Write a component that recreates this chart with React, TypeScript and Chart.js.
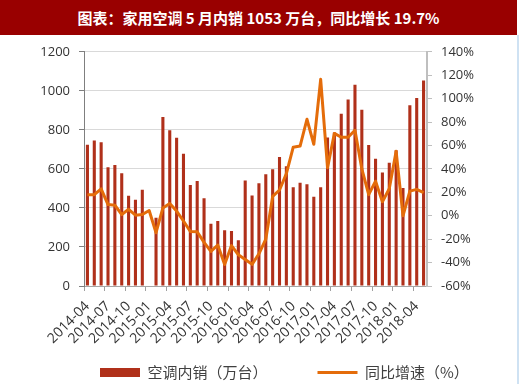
import React, { useEffect, useRef } from "react";
import { Chart, registerables } from "chart.js";

Chart.register(...registerables);

const titleText = "图表：家用空调 5 月内销 1053 万台，同比增长 19.7%";
const barLabel = "空调内销（万台）";
const lineLabel = "同比增速（%）";

const months = [
  "2014-04", "2014-05", "2014-06", "2014-07", "2014-08", "2014-09", "2014-10", "2014-11", "2014-12",
  "2015-01", "2015-02", "2015-03", "2015-04", "2015-05", "2015-06", "2015-07", "2015-08", "2015-09",
  "2015-10", "2015-11", "2015-12", "2016-01", "2016-02", "2016-03", "2016-04", "2016-05", "2016-06",
  "2016-07", "2016-08", "2016-09", "2016-10", "2016-11", "2016-12", "2017-01", "2017-02", "2017-03",
  "2017-04", "2017-05", "2017-06", "2017-07", "2017-08", "2017-09", "2017-10", "2017-11", "2017-12",
  "2018-01", "2018-02", "2018-03", "2018-04", "2018-05",
];

const salesValues: (number | null)[] = [
  724, 746, 736, 608, 620, 578, 462, 442, 493,
  null, 350, 866, 798, 760, 677, 518, 538, 450,
  319, 333, 286, 282, 235, 541, 464, 526, 573,
  598, 661, 613, 506, 529, 521, 457, 506, 761,
  787, 882, 956, 1031, 903, 723, 652, 582, 632,
  696, 502, 926, 963, 1053,
];

const growthValues = [
  18, 18, 23, 9.5, 9, 1, 5.5, 0.5, 1,
  4.5, -14.5, 6.7, 10.4, 4, -4.5, -13.5, -13.7, -22.7,
  -30.5, -25, -41.7, -25.5, -33.3, -37.3, -41.5, -32.5, -20,
  16.5, 22, 36, 58.5, 59.5, 82.4, 61, 116.5, 41,
  70.3, 67, 67, 73, 40, 18, 29.5, 12, 23,
  55, 0, 21, 22.5, 19.7,
];

const leftMin = 0;
const leftMax = 1200;
const leftStep = 200;
const rightMin = -60;
const rightMax = 140;
const rightStep = 20;

const CANVAS_W = 540;
const CANVAS_H = 355;

// widen scale clip boxes after layout so labels are not cut off
const labelRoomPlugin = {
  id: "labelRoom",
  afterLayout(chart: any) {
    const y = chart.scales.y;
    if (y) y.left = 0;
    const x = chart.scales.x;
    if (x) x.bottom = x.top + 90;
  },
};

export default function App() {
  const ref = useRef<HTMLCanvasElement>(null);

  useEffect(() => {
    const axisFont = { family: "'Open Sans', 'DejaVu Sans', sans-serif", size: 13 };
    const xFont = { family: "'Open Sans', 'DejaVu Sans', sans-serif", size: 14 };
    const chart = new Chart(ref.current as HTMLCanvasElement, {
      type: "bar",
      data: {
        labels: months,
        datasets: [
          {
            type: "bar",
            label: barLabel,
            data: salesValues,
            backgroundColor: "#B0301A",
            yAxisID: "y",
            barPercentage: 0.45,
            categoryPercentage: 1,
            order: 2,
            pointStyle: "rect",
          } as any,
          {
            type: "line",
            label: lineLabel,
            data: growthValues,
            borderColor: "#E46C0A",
            backgroundColor: "#E46C0A",
            borderWidth: 3,
            pointRadius: 0,
            pointStyle: "line",
            tension: 0,
            yAxisID: "y1",
            order: 1,
            borderJoinStyle: "round",
          } as any,
        ],
      },
      plugins: [labelRoomPlugin],
      options: {
        responsive: false,
        animation: false,
        layout: { padding: { left: 50, top: 13, right: 0, bottom: 0 } },
        plugins: {
          legend: {
            position: "bottom",
            align: "start",
            labels: {
              usePointStyle: true,
              pointStyleWidth: 40,
              boxHeight: 9,
              padding: 50,
              color: "#404040",
              font: { family: "'Noto Sans CJK SC', sans-serif", size: 15 },
              sort: (a: any, b: any) => a.datasetIndex - b.datasetIndex,
            },
          },
          tooltip: { enabled: false },
        },
        scales: {
          x: {
            offset: true,
            grid: {
              offset: true,
              drawOnChartArea: false,
              drawTicks: true,
              tickLength: 5,
              color: (c: any) => (c.index % 3 === 0 ? "#A0A0A0" : "rgba(0,0,0,0)"),
            },
            border: { color: "#A6A6A6", width: 1 },
            ticks: {
              autoSkip: false,
              minRotation: 45,
              maxRotation: 45,
              padding: 7,
              color: "#333333",
              font: xFont,
              callback: (_v: any, i: number) => (i % 3 === 0 ? months[i] : ""),
            },
            afterFit: (s: any) => {
              s.height = 29;
            },
          },
          y: {
            position: "left",
            min: leftMin,
            max: leftMax,
            ticks: {
              stepSize: leftStep,
              padding: 9,
              color: "#333333",
              font: axisFont,
              callback: (v: any) => String(v),
            },
            grid: { color: "#D9D9D9", tickColor: "#7F7F7F", tickLength: 5 },
            border: { color: "#7F7F7F", width: 1 },
            afterFit: (s: any) => {
              s.width = 34;
            },
          },
          y1: {
            position: "right",
            min: rightMin,
            max: rightMax,
            ticks: {
              stepSize: rightStep,
              padding: 9,
              color: "#333333",
              font: axisFont,
              callback: (v: any) => `${v}%`,
            },
            grid: { drawOnChartArea: false, tickColor: "#BFBFBF", tickLength: 5 },
            border: { color: "#BFBFBF", width: 2 },
            afterFit: (s: any) => {
              s.width = CANVAS_W - 427;
            },
          },
        },
      } as any,
    });
    return () => chart.destroy();
  }, []);

  return (
    <div
      style={{
        position: "absolute",
        left: 0,
        top: 0,
        width: 520,
        height: 384,
        overflow: "hidden",
        background: "#ffffff",
      }}
    >
      <div
        style={{
          position: "absolute",
          left: 0,
          top: 0,
          width: 517,
          height: 35,
          background: "#990000",
          color: "#ffffff",
          fontFamily: "'Noto Sans CJK SC', sans-serif",
          fontWeight: "bold",
          fontSize: 15,
          lineHeight: "35px",
          textAlign: "center",
          whiteSpace: "nowrap",
        }}
      >
        {titleText}
      </div>
      <canvas
        ref={ref}
        width={CANVAS_W}
        height={CANVAS_H}
        style={{ position: "absolute", left: 0, top: 35, width: CANVAS_W, height: CANVAS_H }}
      />
      <div
        style={{
          position: "absolute",
          left: 517,
          top: 35,
          width: 2,
          height: 349,
          background: "#CFE2F3",
        }}
      />
    </div>
  );
}
